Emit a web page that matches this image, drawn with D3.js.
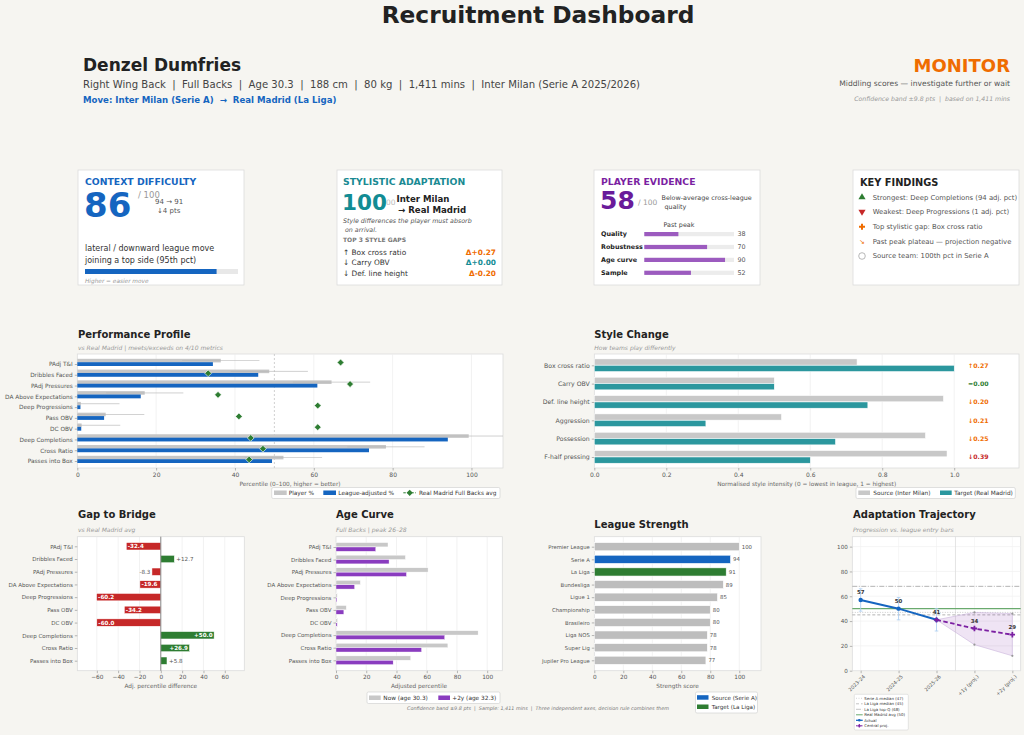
<!DOCTYPE html>
<html><head><meta charset="utf-8">
<script src="https://cdn.jsdelivr.net/npm/d3@7"></script>
<style>body{margin:0;background:#f6f5f1;} svg{display:block;}</style>
</head><body>
<script>
// ---------------- DATA ----------------
const metrics = ["PAdj T&I","Dribbles Faced","PAdj Pressures","DA Above Expectations","Deep Progressions","Pass OBV","DC OBV","Deep Completions","Cross Ratio","Passes into Box"];
const playerPct   = [36.4,48.7,64.5,17.1,0.9,7.2,1.1,99.3,78.3,52.3];
const adjustedPct = [34.4,45.9,60.9,16.1,0.8,6.8,1.0,94.0,74.0,49.4];
const rmAvg       = [66.8,33.2,69.2,35.7,61.0,41.0,61.0,44.0,47.1,43.6];
const confBand = 9.8;
const gapValues   = [-32.4,12.7,-8.3,-19.6,-60.2,-34.2,-60.0,50.0,26.9,5.8];
const ageNow      = [34.4,45.9,60.9,16.1,0.8,6.8,1.0,94.0,74.0,49.4];
const agePlus2    = [26.3,35.1,46.6,12.3,0.6,5.2,0.8,71.9,56.6,37.8];
const styleDims   = ["Box cross ratio","Carry OBV","Def. line height","Aggression","Possession","F-half pressing"];
const styleSource = [0.73,0.50,0.97,0.52,0.92,0.98];
const styleTarget = [1.00,0.50,0.76,0.31,0.67,0.60];
const styleDeltaLabels = ["↑0.27","=0.00","↓0.20","↓0.21","↓0.25","↓0.39"];
const leagues = ["Premier League","Serie A","La Liga","Bundesliga","Ligue 1","Championship","Brasileiro","Liga NOS","Super Lig","Jupiler Pro League"];
const leagueStrength = [100,94,91,89,85,80,80,78,78,77];
const seasons = ["2023-24","2024-25","2025-26","+1y (proj.)","+2y (proj.)"];
const actualScores = [57,50,41];
const actualErr = 9;
const projCentral = [41,34,29];
const projUpper = [41,47,46];
const projLower = [41,21,12];
const refLines = [
  {label:"Serie A median (47)", v:47, kind:"dot"},
  {label:"La Liga median (45)", v:45, kind:"dash"},
  {label:"La Liga top-Q (68)", v:68, kind:"dashdot"},
  {label:"Real Madrid avg (50)", v:50, kind:"green"}
];
const evidenceLabels = ["Quality","Robustness","Age curve","Sample"];
const evidenceValues = [38,70,90,52];
const contextScore = 86, styleScore = 100, evidenceScore = 58;

// ---------------- SETUP ----------------
const F = "DejaVu Sans";
const C = {blue:"#1565c0", green:"#2e7d32", red:"#c62828", orange:"#ef6c00", teal:"#00838f", purple:"#6a1b9a", grey:"#c4c4c4"};
const svg = d3.select("body").append("svg").attr("width",1024).attr("height",735);
svg.append("rect").attr("width",1024).attr("height",735).attr("fill","#f6f5f1");

function T(x,y,s,o={}){
  const t = (o.g||svg).append("text").attr("x",x).attr("y",y).text(s)
    .style("font-family",F).style("font-size",(o.fs||8)+"px").attr("fill",o.c||"#333")
    .style("white-space","pre");
  if(o.w) t.style("font-weight",o.w);
  if(o.i) t.style("font-style","italic");
  if(o.a) t.attr("text-anchor",o.a);
  return t;
}
function frame(x,y,w,h){
  svg.append("rect").attr("x",x).attr("y",y).attr("width",w).attr("height",h).attr("fill","#fff").attr("stroke","#dcdcdc").attr("stroke-width",0.8);
}
function styleAxis(g,fs){
  g.attr("font-family",F).attr("font-size",fs);
  g.select("path.domain").remove();
  g.selectAll("line").attr("stroke","#888").attr("stroke-width",0.6);
  g.selectAll("text").attr("fill","#555");
}
function card(x,y,w,h){
  svg.append("rect").attr("x",x).attr("y",y).attr("width",w).attr("height",h).attr("fill","#fff").attr("stroke","#dcdcdc").attr("stroke-width",0.8);
}

// ---------------- HEADER ----------------
T(538,22.5,"Recruitment Dashboard",{fs:23.3,w:"bold",a:"middle",c:"#222"});
T(83,71,"Denzel Dumfries",{fs:17,w:"bold",c:"#222"});
T(83,88,"Right Wing Back  |  Full Backs  |  Age 30.3  |  188 cm  |  80 kg  |  1,411 mins  |  Inter Milan (Serie A 2025/2026)",{fs:10.1,c:"#444"});
T(83,103,"Move: Inter Milan (Serie A)  →  Real Madrid (La Liga)",{fs:8.6,w:"bold",c:C.blue});
T(1010,72,"MONITOR",{fs:18,w:"bold",c:C.orange,a:"end"});
T(1010,86,"Middling scores — investigate further or wait",{fs:7.6,c:"#555",a:"end"});
T(1010,101,"Confidence band ±9.8 pts  |  based on 1,411 mins",{fs:6.2,i:1,c:"#999",a:"end"});

// ---------------- CARDS ----------------
card(78,170,166,115);
T(85,185,"CONTEXT DIFFICULTY",{fs:9.3,w:"bold",c:C.blue});
T(138,198,"/ 100",{fs:8.5,c:"#999"});
T(84,216.5,String(contextScore),{fs:34,w:"bold",c:C.blue});
T(155,204,"94 → 91",{fs:7,c:"#555"});
T(157,213,"↓4 pts",{fs:7,c:"#555"});
T(85,251,"lateral / downward league move",{fs:8,c:"#333"});
T(85,262.5,"joining a top side (95th pct)",{fs:8,c:"#333"});
const cardBar = d3.scaleLinear().domain([0,100]).range([85,238]);
svg.append("rect").attr("x",85).attr("y",269).attr("width",cardBar(100)-85).attr("height",5).attr("fill","#e8e8e8");
svg.append("rect").attr("x",85).attr("y",269).attr("width",cardBar(contextScore)-85).attr("height",5).attr("fill",C.blue);
T(85,283,"Higher = easier move",{fs:5.8,i:1,c:"#999"});

card(337,170,165,115);
T(343,185,"STYLISTIC ADAPTATION",{fs:9.3,w:"bold",c:"#1a8a93"});
T(342,210,String(styleScore),{fs:21.5,w:"bold",c:"#128c94"});
T(386,205,"00",{fs:7.5,c:"#bbb"});
T(396.5,202,"Inter Milan",{fs:8.6,w:"bold",c:"#222"});
T(398,212.5,"→ Real Madrid",{fs:8.6,w:"bold",c:"#222"});
T(343,222.5,"Style differences the player must absorb",{fs:6.3,i:1,c:"#555"});
T(343,232," on arrival.",{fs:6.3,i:1,c:"#555"});
T(343,241.8,"TOP 3 STYLE GAPS",{fs:6,w:"bold",c:"#777"});
const gapRows = [["↑ Box cross ratio","Δ+0.27",C.orange],["↓ Carry OBV","Δ+0.00","#128c94"],["↓ Def. line height","Δ-0.20",C.orange]];
gapRows.forEach((r,i)=>{
  const y = 254.5 + i*10.5;
  T(343,y,r[0],{fs:7.4,c:"#333"});
  T(496,y,r[1],{fs:7.4,w:"bold",c:r[2],a:"end"});
});

card(594,170,166,115);
T(601,185,"PLAYER EVIDENCE",{fs:9.3,w:"bold",c:"#7b1fa2"});
T(600,209,String(evidenceScore),{fs:25,w:"bold",c:"#6a1b9a"});
T(638,204.5,"/ 100",{fs:7.5,c:"#999"});
T(661.5,200,"Below-average cross-league",{fs:6.4,c:"#444"});
T(662.5,209," quality",{fs:6.4,c:"#444"});
T(679,226.5,"Past peak",{fs:6.4,c:"#444",a:"middle"});
const evX = d3.scaleLinear().domain([0,100]).range([644.3,734]);
evidenceLabels.forEach((l,i)=>{
  const cy = 234 + i*12.9;
  T(601,cy+2.3,l,{fs:6.4,w:"bold",c:"#222"});
  svg.append("rect").attr("x",evX(0)).attr("y",cy-2).attr("width",evX(100)-evX(0)).attr("height",4.2).attr("fill","#ececec");
  svg.append("rect").attr("x",evX(0)).attr("y",cy-2).attr("width",evX(evidenceValues[i])-evX(0)).attr("height",4.2).attr("fill","#9c5bbf");
  T(737.5,cy+2.3,String(evidenceValues[i]),{fs:6.4,c:"#555"});
});

card(853,170,166,115);
T(860,186,"KEY FINDINGS",{fs:9.8,w:"bold",c:"#222"});
const findings = ["Strongest: Deep Completions (94 adj. pct)","Weakest: Deep Progressions (1 adj. pct)","Top stylistic gap: Box cross ratio","Past peak plateau — projection negative","Source team: 100th pct in Serie A"];
findings.forEach((f,i)=>{
  const cy = [197.3,211.7,226.7,241.3,256][i];
  T(872.7,cy+2.4,f,{fs:6.85,c:"#555"});
  const ix = 862;
  if(i===0) svg.append("path").attr("d",d3.symbol(d3.symbolTriangle,22)()).attr("transform",`translate(${ix},${cy})`).attr("fill",C.green);
  if(i===1) svg.append("path").attr("d",d3.symbol(d3.symbolTriangle,22)()).attr("transform",`translate(${ix},${cy}) rotate(180)`).attr("fill",C.red);
  if(i===2) svg.append("path").attr("d",d3.symbol(d3.symbolCross,20)()).attr("transform",`translate(${ix},${cy})`).attr("fill",C.orange);
  if(i===3) T(ix,cy+2.5,"↘",{fs:7,c:C.orange,a:"middle"});
  if(i===4) svg.append("circle").attr("cx",ix).attr("cy",cy).attr("r",3.3).attr("fill","none").attr("stroke","#999").attr("stroke-width",0.7);
});

// ---------------- PERFORMANCE PROFILE ----------------
T(78,337.5,"Performance Profile",{fs:10,w:"bold",c:"#222"});
T(78,349.5,"vs Real Madrid | meets/exceeds on 4/10 metrics",{fs:6,i:1,c:"#999"});
const pX = d3.scaleLinear().domain([0,108]).range([77.3,503]);
const pY = d3.scalePoint().domain(metrics).range([364,461]);
frame(77.3,354,503-77.3,114);
[20,40,60,80,100].forEach(v=>svg.append("line").attr("x1",pX(v)).attr("x2",pX(v)).attr("y1",354).attr("y2",468).attr("stroke","#ececec").attr("stroke-width",0.7));
svg.append("line").attr("x1",pX(50)).attr("x2",pX(50)).attr("y1",354).attr("y2",468).attr("stroke","#bbb").attr("stroke-width",0.7).attr("stroke-dasharray","2,2");
metrics.forEach((m,i)=>{
  const c = pY(m);
  svg.append("rect").attr("x",pX(0)).attr("y",c-5.2).attr("width",pX(playerPct[i])-pX(0)).attr("height",3.6).attr("fill","#c6c6c6");
  svg.append("line").attr("x1",pX(Math.max(0,playerPct[i]-confBand))).attr("x2",pX(Math.min(108,playerPct[i]+confBand))).attr("y1",c-3.4).attr("y2",c-3.4).attr("stroke","#b8b8b8").attr("stroke-width",0.8).attr("opacity",0.8);
  svg.append("rect").attr("x",pX(0)).attr("y",c-1.8).attr("width",pX(adjustedPct[i])-pX(0)).attr("height",3.8).attr("fill",C.blue);
});
metrics.forEach((m,i)=>{
  svg.append("rect").attr("x",-2.4).attr("y",-2.4).attr("width",4.8).attr("height",4.8)
    .attr("transform",`translate(${pX(rmAvg[i])},${pY(m)-1.5}) rotate(45)`).attr("fill",C.green).attr("stroke","#fff").attr("stroke-width",0.6);
});
styleAxis(svg.append("g").attr("transform","translate(77.3,0)").call(d3.axisLeft(pY).tickSize(2.5).tickPadding(2)),5.8);
styleAxis(svg.append("g").attr("transform","translate(0,468)").call(d3.axisBottom(pX).tickValues([0,20,40,60,80,100]).tickSize(2.5).tickPadding(2)),6);
T(290,486,"Percentile (0–100, higher = better)",{fs:5.8,c:"#666",a:"middle"});
// legend
svg.append("rect").attr("x",271.7).attr("y",487.5).attr("width",228.3).attr("height",11).attr("fill","#fff").attr("stroke","#ccc").attr("stroke-width",0.6).attr("rx",1.5);
svg.append("rect").attr("x",274).attr("y",490.5).attr("width",12.7).attr("height",4.5).attr("fill","#c6c6c6");
T(288.7,495.3,"Player %",{fs:5.8,c:"#333"});
svg.append("rect").attr("x",323.3).attr("y",490.5).attr("width",12.7).attr("height",4.5).attr("fill",C.blue);
T(338.3,495.3,"League-adjusted %",{fs:5.8,c:"#333"});
svg.append("line").attr("x1",403.3).attr("x2",416).attr("y1",492.8).attr("y2",492.8).attr("stroke",C.green).attr("stroke-width",1).attr("stroke-dasharray","2.5,1.5");
svg.append("rect").attr("x",-2.2).attr("y",-2.2).attr("width",4.4).attr("height",4.4).attr("transform","translate(409.7,492.8) rotate(45)").attr("fill",C.green);
T(419,495.3,"Real Madrid Full Backs avg",{fs:5.8,c:"#333"});

// ---------------- STYLE CHANGE ----------------
T(594.3,337.5,"Style Change",{fs:10,w:"bold",c:"#222"});
T(594.3,349.5,"How teams play differently",{fs:6,i:1,c:"#999"});
const sX = d3.scaleLinear().domain([0,1.18]).range([594.3,1019]);
const sY = d3.scalePoint().domain(styleDims).range([365.3,457]);
frame(594.3,354,1019-594.3,114);
[0.2,0.4,0.6,0.8,1.0].forEach(v=>svg.append("line").attr("x1",sX(v)).attr("x2",sX(v)).attr("y1",354).attr("y2",468).attr("stroke","#ececec").attr("stroke-width",0.7));
styleDims.forEach((d,i)=>{
  const c = sY(d);
  svg.append("rect").attr("x",sX(0)).attr("y",c-6.4).attr("width",sX(styleSource[i])-sX(0)).attr("height",6.2).attr("fill","#c8c8c8").attr("stroke","#fff").attr("stroke-width",0.5);
  svg.append("rect").attr("x",sX(0)).attr("y",c).attr("width",sX(styleTarget[i])-sX(0)).attr("height",6.2).attr("fill","#2b979e").attr("stroke","#fff").attr("stroke-width",0.5);
  const col = i===1 ? C.green : (i===5 ? C.red : C.orange);
  T(978.3,c+2.2,styleDeltaLabels[i],{fs:6.2,w:"bold",c:col,a:"middle"});
});
styleAxis(svg.append("g").attr("transform","translate(594.3,0)").call(d3.axisLeft(sY).tickSize(2.5).tickPadding(2)),6.2);
styleAxis(svg.append("g").attr("transform","translate(0,468)").call(d3.axisBottom(sX).tickValues([0,0.2,0.4,0.6,0.8,1.0]).tickFormat(d3.format(".1f")).tickSize(2.5).tickPadding(2)),6);
T(806.7,486,"Normalised style intensity (0 = lowest in league, 1 = highest)",{fs:5.8,c:"#666",a:"middle"});
svg.append("rect").attr("x",856).attr("y",487.5).attr("width",159.3).attr("height",11).attr("fill","#fff").attr("stroke","#ccc").attr("stroke-width",0.6).attr("rx",1.5);
svg.append("rect").attr("x",858.3).attr("y",490.5).attr("width",11.7).attr("height",4.5).attr("fill","#c8c8c8");
T(873.3,495.3,"Source (Inter Milan)",{fs:5.8,c:"#333"});
svg.append("rect").attr("x",940).attr("y",490.5).attr("width",11.7).attr("height",4.5).attr("fill","#2b979e");
T(954.3,495.3,"Target (Real Madrid)",{fs:5.8,c:"#333"});

// ---------------- GAP TO BRIDGE ----------------
T(78,517.5,"Gap to Bridge",{fs:10,w:"bold",c:"#222"});
T(78,532,"vs Real Madrid avg",{fs:6,i:1,c:"#999"});
const gX = d3.scaleLinear().domain([-78.3,78.3]).range([77.3,244.3]);
const gY = d3.scalePoint().domain(metrics).range([546.3,660.7]);
frame(77.3,536.7,167,134);
[-60,-40,-20,20,40,60].forEach(v=>svg.append("line").attr("x1",gX(v)).attr("x2",gX(v)).attr("y1",536.7).attr("y2",670.7).attr("stroke","#ececec").attr("stroke-width",0.7));
metrics.forEach((m,i)=>{
  const v = gapValues[i], c = gY(m);
  const col = v<0 ? C.red : C.green;
  svg.append("rect").attr("x",gX(Math.min(0,v))).attr("y",c-3.7).attr("width",Math.abs(gX(v)-gX(0))).attr("height",7.4).attr("fill",col).attr("stroke","#fff").attr("stroke-width",0.5);
  const lbl = (v>0?"+":"")+v.toFixed(1);
  if(Math.abs(v)>=15){
    if(v<0) T(gX(v)+1.5,c+2,lbl,{fs:5.6,w:"bold",c:"#fff"});
    else T(gX(v)-1.5,c+2,lbl,{fs:5.6,w:"bold",c:"#fff",a:"end"});
  } else {
    if(v<0) T(gX(v)-1.5,c+2,lbl,{fs:5.6,c:"#555",a:"end"});
    else T(gX(v)+2,c+2,lbl,{fs:5.6,c:"#555"});
  }
});
svg.append("line").attr("x1",gX(0)).attr("x2",gX(0)).attr("y1",536.7).attr("y2",670.7).attr("stroke","#777").attr("stroke-width",0.9);
styleAxis(svg.append("g").attr("transform","translate(77.3,0)").call(d3.axisLeft(gY).tickSize(2.5).tickPadding(2)),5.5);
styleAxis(svg.append("g").attr("transform","translate(0,670.7)").call(d3.axisBottom(gX).tickValues([-60,-40,-20,0,20,40,60]).tickFormat(d=>d<0?"−"+Math.abs(d):String(d)).tickSize(2.5).tickPadding(2)),5.8);
T(160.8,687.5,"Adj. percentile difference",{fs:5.8,c:"#666",a:"middle"});

// ---------------- AGE CURVE ----------------
T(336,517.5,"Age Curve",{fs:10,w:"bold",c:"#222"});
T(336,532,"Full Backs | peak 26–28",{fs:6,i:1,c:"#999"});
const aX = d3.scaleLinear().domain([0,110]).range([336,502.3]);
const aY = d3.scalePoint().domain(metrics).range([547,660.3]);
frame(336,536.7,166.3,134);
[20,40,60,80,100].forEach(v=>svg.append("line").attr("x1",aX(v)).attr("x2",aX(v)).attr("y1",536.7).attr("y2",670.7).attr("stroke","#ececec").attr("stroke-width",0.7));
metrics.forEach((m,i)=>{
  const c = aY(m);
  svg.append("rect").attr("x",aX(0)).attr("y",c-4.4).attr("width",aX(ageNow[i])-aX(0)).attr("height",4.3).attr("fill","#c8c8c8").attr("stroke","#fff").attr("stroke-width",0.4);
  svg.append("rect").attr("x",aX(0)).attr("y",c).attr("width",aX(agePlus2[i])-aX(0)).attr("height",4.3).attr("fill","#8a3cbf").attr("stroke","#fff").attr("stroke-width",0.4);
});
styleAxis(svg.append("g").attr("transform","translate(336,0)").call(d3.axisLeft(aY).tickSize(2.5).tickPadding(2)),5.5);
styleAxis(svg.append("g").attr("transform","translate(0,670.7)").call(d3.axisBottom(aX).tickValues([0,20,40,60,80,100]).tickSize(2.5).tickPadding(2)),5.8);
T(419,687.5,"Adjusted percentile",{fs:5.8,c:"#666",a:"middle"});
svg.append("rect").attr("x",367).attr("y",692).attr("width",133).attr("height",11.5).attr("fill","#fff").attr("stroke","#ccc").attr("stroke-width",0.6).attr("rx",1.5);
svg.append("rect").attr("x",369).attr("y",695.5).attr("width",11.7).attr("height",4.5).attr("fill","#c8c8c8");
T(383.3,700.2,"Now (age 30.3)",{fs:5.8,c:"#333"});
svg.append("rect").attr("x",438.3).attr("y",695.5).attr("width",11.7).attr("height",4.5).attr("fill","#8a3cbf");
T(452.3,700.2,"+2y (age 32.3)",{fs:5.8,c:"#333"});

// ---------------- LEAGUE STRENGTH ----------------
T(594.3,528,"League Strength",{fs:10,w:"bold",c:"#222"});
const lX = d3.scaleLinear().domain([0,115]).range([594.3,761]);
const lY = d3.scalePoint().domain(leagues).range([546.7,660.3]);
frame(594.3,536.7,166.7,134);
[20,40,60,80,100].forEach(v=>svg.append("line").attr("x1",lX(v)).attr("x2",lX(v)).attr("y1",536.7).attr("y2",670.7).attr("stroke","#ececec").attr("stroke-width",0.7));
leagues.forEach((l,i)=>{
  const c = lY(l);
  const col = i===1 ? C.blue : (i===2 ? C.green : "#bdbdbd");
  svg.append("rect").attr("x",lX(0)).attr("y",c-4.1).attr("width",lX(leagueStrength[i])-lX(0)).attr("height",8.2).attr("fill",col).attr("stroke","#fff").attr("stroke-width",0.6);
  T(lX(leagueStrength[i])+2.5,c+2,String(leagueStrength[i]),{fs:5.4,c:"#555"});
});
styleAxis(svg.append("g").attr("transform","translate(594.3,0)").call(d3.axisLeft(lY).tickSize(2.5).tickPadding(2)),5.3);
styleAxis(svg.append("g").attr("transform","translate(0,670.7)").call(d3.axisBottom(lX).tickValues([0,20,40,60,80,100]).tickSize(2.5).tickPadding(2)),5.8);
T(677.6,687.5,"Strength score",{fs:5.8,c:"#666",a:"middle"});
svg.append("rect").attr("x",695.5).attr("y",692).attr("width",62).attr("height",21).attr("fill","#fff").attr("stroke","#ccc").attr("stroke-width",0.6).attr("rx",1.5);
svg.append("rect").attr("x",697).attr("y",695.2).attr("width",11.5).attr("height",4.5).attr("fill",C.blue);
T(711.7,699.8,"Source (Serie A)",{fs:5.6,c:"#333"});
svg.append("rect").attr("x",697).attr("y",704.5).attr("width",11.5).attr("height",4.5).attr("fill",C.green);
T(711.7,709.1,"Target (La Liga)",{fs:5.6,c:"#333"});

// ---------------- ADAPTATION TRAJECTORY ----------------
T(853,517.5,"Adaptation Trajectory",{fs:10,w:"bold",c:"#222"});
T(853,532,"Progression vs. league entry bars",{fs:6,i:1,c:"#999"});
const tX = d3.scaleLinear().domain([-0.22,4.22]).range([852.3,1020.7]);
const tY = d3.scaleLinear().domain([0,108]).range([670.7,536.7]);
frame(852.3,536.7,168.4,134);
[0,20,40,60,80,100].forEach(v=>svg.append("line").attr("x1",852.3).attr("x2",1020.7).attr("y1",tY(v)).attr("y2",tY(v)).attr("stroke","#eeeeee").attr("stroke-width",0.6));
[0,1,2,3,4].forEach(v=>svg.append("line").attr("x1",tX(v)).attr("x2",tX(v)).attr("y1",536.7).attr("y2",670.7).attr("stroke","#f0f0f0").attr("stroke-width",0.6));
svg.append("line").attr("x1",tX(2.5)).attr("x2",tX(2.5)).attr("y1",536.7).attr("y2",670.7).attr("stroke","#dddddd").attr("stroke-width",0.8);
const dashOf = {dot:"1,1.5", dash:"3,2", dashdot:"5,1.5,1,1.5", green:null};
const colOf = {dot:"#c4c4c4", dash:"#aaaaaa", dashdot:"#aaaaaa", green:"#6aaa6e"};
refLines.forEach(r=>{
  const ln = svg.append("line").attr("x1",852.3).attr("x2",1020.7).attr("y1",tY(r.v)).attr("y2",tY(r.v)).attr("stroke",colOf[r.kind]).attr("stroke-width",r.kind==="green"?1.3:0.9);
  if(dashOf[r.kind]) ln.attr("stroke-dasharray",dashOf[r.kind]);
});
// projection band
const projIdx = [2,3,4];
const band = d3.area().x((d,i)=>tX(projIdx[i])).y0((d,i)=>tY(projLower[i])).y1((d,i)=>tY(projUpper[i]));
svg.append("path").attr("d",band(projUpper)).attr("fill","#7b1fa2").attr("fill-opacity",0.12).attr("stroke","#c9b3dc").attr("stroke-width",0.6);
[1,2].forEach(i=>{
  svg.append("circle").attr("cx",tX(projIdx[i])).attr("cy",tY(projUpper[i])).attr("r",1.1).attr("fill","#999");
  svg.append("circle").attr("cx",tX(projIdx[i])).attr("cy",tY(projLower[i])).attr("r",1.1).attr("fill","#999");
});
// error bars
actualScores.forEach((v,i)=>{
  const x = tX(i);
  svg.append("line").attr("x1",x).attr("x2",x).attr("y1",tY(v-actualErr)).attr("y2",tY(v+actualErr)).attr("stroke","#a9cdf2").attr("stroke-width",0.8);
  [v-actualErr,v+actualErr].forEach(e=>svg.append("line").attr("x1",x-1.8).attr("x2",x+1.8).attr("y1",tY(e)).attr("y2",tY(e)).attr("stroke","#a9cdf2").attr("stroke-width",0.8));
});
const line = d3.line().x(d=>tX(d[0])).y(d=>tY(d[1]));
svg.append("path").attr("d",line(actualScores.map((v,i)=>[i,v]))).attr("fill","none").attr("stroke",C.blue).attr("stroke-width",2);
actualScores.forEach((v,i)=>svg.append("circle").attr("cx",tX(i)).attr("cy",tY(v)).attr("r",2.2).attr("fill",C.blue));
svg.append("path").attr("d",line(projCentral.map((v,i)=>[projIdx[i],v]))).attr("fill","none").attr("stroke","#7b1fa2").attr("stroke-width",1.8).attr("stroke-dasharray","4.5,2.5");
projCentral.forEach((v,i)=>svg.append("path").attr("d",d3.symbol(d3.symbolCross,16)()).attr("transform",`translate(${tX(projIdx[i])},${tY(v)})`).attr("fill","#7b1fa2"));
const labelled = actualScores.map((v,i)=>[i,v]).concat(projCentral.slice(1).map((v,i)=>[i+3,v]));
labelled.forEach(d=>T(tX(d[0]),tY(d[1])-6,String(d[1]),{fs:5.4,w:"bold",c:"#333",a:"middle"}));
styleAxis(svg.append("g").attr("transform","translate(852.3,0)").call(d3.axisLeft(tY).tickValues([0,20,40,60,80,100]).tickSize(2.5).tickPadding(2)),5.6);
const tax = svg.append("g").attr("transform","translate(0,670.7)").call(d3.axisBottom(tX).tickValues([0,1,2,3,4]).tickFormat(i=>seasons[i]).tickSize(2.5).tickPadding(2));
styleAxis(tax,5);
tax.selectAll("text").attr("text-anchor","end").attr("dy","0.3em").attr("transform","translate(0,2) rotate(-45)");
// legend
svg.append("rect").attr("x",854.3).attr("y",694.3).attr("width",54).attr("height",35.7).attr("fill","#fff").attr("stroke","#ccc").attr("stroke-width",0.5).attr("rx",1.2);
const legItems = refLines.map(r=>({label:r.label,kind:r.kind})).concat([{label:"Actual",kind:"actual"},{label:"Central proj.",kind:"proj"}]);
legItems.forEach((it,i)=>{
  const y = 698.3 + i*5.5;
  const ln = svg.append("line").attr("x1",856).attr("x2",862.7).attr("y1",y).attr("y2",y);
  if(it.kind==="actual"){ ln.attr("stroke",C.blue).attr("stroke-width",1.3); svg.append("circle").attr("cx",859.3).attr("cy",y).attr("r",1.3).attr("fill",C.blue); }
  else if(it.kind==="proj"){ ln.attr("stroke","#7b1fa2").attr("stroke-width",1).attr("stroke-dasharray","1.5,1"); svg.append("path").attr("d",d3.symbol(d3.symbolCross,7)()).attr("transform",`translate(859.3,${y})`).attr("fill","#7b1fa2"); }
  else { ln.attr("stroke",colOf[it.kind]).attr("stroke-width",it.kind==="green"?1:0.7); if(dashOf[it.kind]) ln.attr("stroke-dasharray",dashOf[it.kind]); }
  T(864.3,y+1.4,it.label,{fs:3.9,c:"#333"});
});

// ---------------- FOOTER ----------------
T(538,709.5,"Confidence band ±9.8 pts  |  Sample: 1,411 mins  |  Three independent axes, decision rule combines them",{fs:4.9,i:1,c:"#777",a:"middle"});
</script>
</body></html>
